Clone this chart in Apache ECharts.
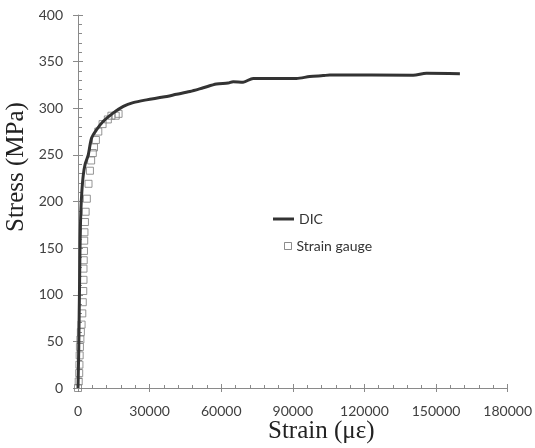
<!DOCTYPE html>
<html>
<head>
<meta charset="utf-8">
<script src="https://cdn.jsdelivr.net/npm/echarts@6/dist/echarts.min.js"></script>
<style>html,body{margin:0;padding:0;background:#fff;}#c{width:535px;height:448px;}</style>
</head>
<body>
<div id="c"></div>
<script>
// DIC curve: strain (µε), stress (MPa)
const dicStrain = [0, 300, 500, 700, 900, 1200, 1600, 2200, 3000, 4300, 5700, 7800, 10600, 14800, 19000, 23100, 28700, 35700, 41300, 46900, 52500, 58000, 62900, 65000, 69200, 73400, 91500, 97100, 102700, 105500, 140400, 146000, 160000];
const dicStress = [0, 40, 80, 120, 160, 190, 210, 228, 240, 250, 268, 277, 286, 295, 302, 306, 309, 312, 315, 318, 322, 326, 327, 328.5, 328, 332, 332, 334, 335, 335.6, 335.5, 337.5, 337];
// Strain gauge points
const sgStrain = [0, 300, 500, 600, 700, 800, 1000, 1200, 1500, 1800, 2000, 2200, 2300, 2300, 2400, 2500, 2600, 2700, 2900, 3200, 3700, 4400, 5000, 5500, 6200, 6700, 7500, 8500, 10300, 12500, 14000, 15800, 17000];
const sgStress = [0, 7, 16, 25, 35, 44, 52, 60, 68, 80, 92, 104, 116, 128, 137, 147, 158, 167, 178, 189, 203, 219, 233, 244, 252, 258, 266, 275, 283, 288, 292, 292, 294];
const xTicks = [0, 30000, 60000, 90000, 120000, 150000, 180000];
const yTicks = [0, 50, 100, 150, 200, 250, 300, 350, 400];

const zip = (a, b) => a.map((v, i) => [v, b[i]]);
const axisColor = '#8a8a8a';
const labelFont = { fontFamily: 'Lato', fontSize: 14, color: '#404040' };

const chart = echarts.init(document.getElementById('c'), null, { renderer: 'canvas' });
const xBase = { type: 'value', min: xTicks[0], max: xTicks[xTicks.length - 1], interval: xTicks[1] - xTicks[0], position: 'bottom', splitLine: { show: false } };
const yBase = { type: 'value', min: yTicks[0], max: yTicks[yTicks.length - 1], interval: yTicks[1] - yTicks[0], position: 'left', splitLine: { show: false } };
chart.setOption({
  animation: false,
  backgroundColor: '#fff',
  grid: { left: 78, right: 27, top: 15, bottom: 60 },
  xAxis: [
    Object.assign({}, xBase, {
      axisLine: { show: true, lineStyle: { color: axisColor, width: 1 } },
      axisTick: { show: true, inside: true, length: 4, lineStyle: { color: axisColor } },
      minorTick: { show: true, splitNumber: 5, length: 3, lineStyle: { color: axisColor } },
      axisLabel: Object.assign({ margin: 16, formatter: v => String(v) }, labelFont)
    }),
    Object.assign({}, xBase, {
      offset: 0,
      axisLine: { show: false },
      axisTick: { show: true, inside: false, length: 4, lineStyle: { color: axisColor } },
      axisLabel: { show: false }
    })
  ],
  yAxis: [
    Object.assign({}, yBase, {
      axisLine: { show: true, lineStyle: { color: axisColor, width: 1 } },
      axisTick: { show: true, inside: true, length: 5, lineStyle: { color: axisColor } },
      minorTick: { show: true, splitNumber: 5, length: 4, lineStyle: { color: axisColor } },
      axisLabel: Object.assign({ margin: 15, formatter: v => String(v) }, labelFont)
    }),
    Object.assign({}, yBase, {
      offset: 0,
      axisLine: { show: false },
      axisTick: { show: true, inside: false, length: 5, lineStyle: { color: axisColor } },
      axisLabel: { show: false }
    })
  ],
  legend: [
    {
      data: ['DIC'], orient: 'vertical', left: 268, top: 207,
      itemWidth: 21, itemHeight: 3, icon: 'rect',
      itemStyle: { color: '#333' },
      textStyle: { fontFamily: 'Lato', fontSize: 14, color: '#333' }
    },
    {
      data: ['Strain gauge'], orient: 'vertical', left: 279, top: 234,
      itemWidth: 7, itemHeight: 7, icon: 'rect',
      itemStyle: { color: '#fff', borderColor: '#6f6f6f', borderWidth: 1 },
      textStyle: { fontFamily: 'Lato', fontSize: 14, color: '#333' }
    }
  ],
  graphic: [
    { type: 'text', left: 268, top: 419, style: { text: 'Strain (με)', fontFamily: 'Liberation Serif', fontSize: 25, fill: '#222' } },
    { type: 'text', x: 4, y: 232, rotation: Math.PI / 2, style: { text: 'Stress (MPa)', fontFamily: 'Liberation Serif', fontSize: 25, fill: '#222' } }
  ],
  series: [
    {
      name: 'Strain gauge', type: 'scatter', xAxisIndex: 0, yAxisIndex: 0, z: 1,
      symbol: 'rect', symbolSize: 7,
      itemStyle: { color: 'rgba(255,255,255,0)', borderColor: '#7a7a7a', borderWidth: 1 },
      data: zip(sgStrain, sgStress)
    },
    {
      name: 'DIC', type: 'line', xAxisIndex: 0, yAxisIndex: 0, z: 2,
      showSymbol: false, symbol: 'none', smooth: 0.3,
      lineStyle: { color: '#333', width: 3 },
      itemStyle: { color: '#333' },
      data: zip(dicStrain, dicStress)
    }
  ]
});
</script>
</body>
</html>
